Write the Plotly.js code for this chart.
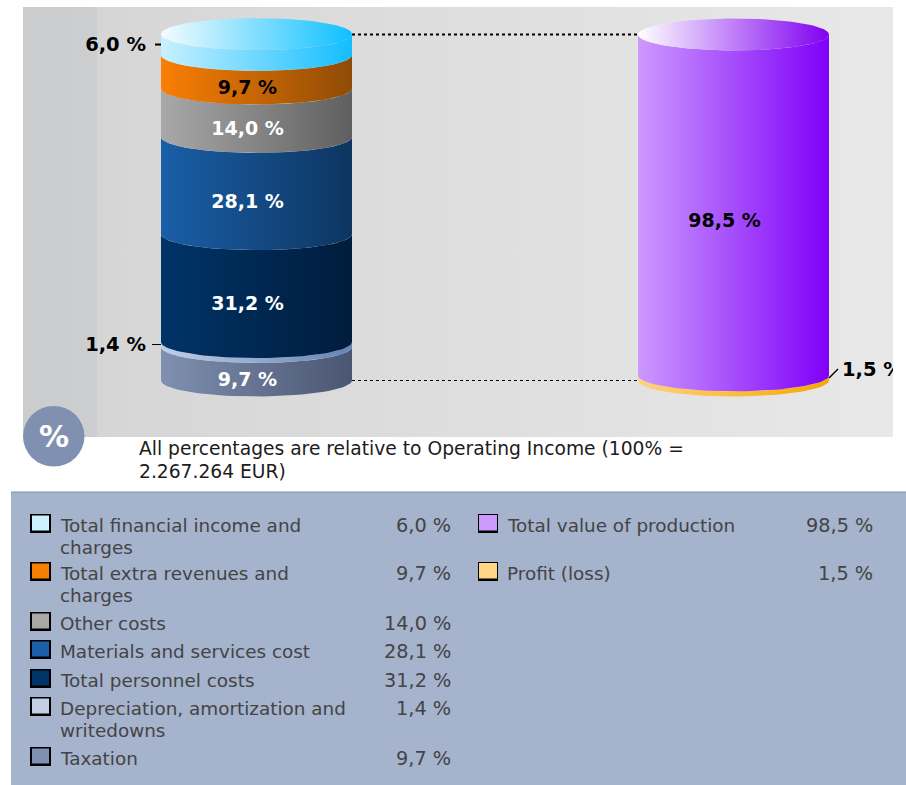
<!DOCTYPE html>
<html>
<head>
<meta charset="utf-8">
<script src="https://cdn.plot.ly/plotly-3.0.1.min.js"></script>
<style>html,body{margin:0;padding:0;background:#fff}#chart{width:906px;height:785px}</style>
</head>
<body>
<div id="chart"></div>
<script>
// Cost breakdown, listed from the top of the cylinder downward
const costNames = ["Total financial income and<br>charges", "Total extra revenues and<br>charges", "Other costs", "Materials and services cost", "Total personnel costs", "Depreciation, amortization and<br>writedowns", "Taxation"];
const costValues = [6.0, 9.7, 14.0, 28.1, 31.2, 1.4, 9.7];
const costLight = ["#c8f1ff", "#fb7f03", "#a9a9a9", "#1a5fa8", "#003468", "#c0cfe6", "#8090b0"];
const costDark = ["#14bdff", "#8f4b05", "#5f5f5f", "#0d3560", "#001c3c", "#6583b8", "#4a5672"];
const costLabelInk = ["#000000", "#000000", "#ffffff", "#ffffff", "#ffffff", "#000000", "#ffffff"];

// Revenue breakdown, listed from the top downward
const revenueNames = ["Total value of production", "Profit (loss)"];
const revenueValues = [98.5, 1.5];
const revenueLight = ["#cc99ff", "#ffd27f"];
const revenueDark = ["#8000f8", "#f5a800"];
const revenueLabelInk = ["#000000", "#000000"];

const costCapColors = ["#f4fcff", "#0fc0ff"];
const revenueCapColors = ["#ffffff", "#8000f0"];
const costSwatches = ["#ccf2ff", "#f77f00", "#a8a8a8", "#1a5fa8", "#003366", "#c3cfe2", "#8090b0"];
const revenueSwatches = ["#cc99ff", "#ffd588"];
const noteLines = ["All percentages are relative to Operating Income (100% =", "2.267.264 EUR)"];

const W = 906, H = 785;
const FONT = "DejaVu Sans, Verdana, sans-serif";

// Plot frame in page pixels and the axis scales it implies
const frame = {l: 23, r: 893, t: 7, b: 437};
const pxPerUnitY = 3.46, baseY = 380.5;
const leftCx = 256.5, rightCx = 733.5, pxPerUnitX = rightCx - leftCx;
const halfWidth = 95.5 / pxPerUnitX, capRy = 16 / pxPerUnitY;
const xRange = [(frame.l - leftCx) / pxPerUnitX, (frame.r - leftCx) / pxPerUnitX];
const yRange = [(baseY - frame.b) / pxPerUnitY, (baseY - frame.t) / pxPerUnitY];
const px = x => (x - frame.l) / (frame.r - frame.l) * (xRange[1] - xRange[0]) + xRange[0];
const pX = x => x / W;
const pY = y => 1 - y / H;
const fmt = v => v.toFixed(1).replace(".", ",") + " %";

const traces = [];

function band(x0, x1, y0, y1, gradient) {
  traces.push({
    type: "scatter", mode: "none", x: [x0, x1, x1, x0, x0], y: [y0, y0, y1, y1, y0],
    fill: "toself", fillgradient: {type: "horizontal", colorscale: [[0, gradient[0]], [1, gradient[1]]]},
    hoverinfo: "skip"
  });
}

// Front half of the rim at height v, walked left to right or right to left
function rim(cx, v, reverse) {
  const xs = [], ys = [];
  const n = 48;
  for (let i = 0; i <= n; i++) {
    const t = Math.PI * (reverse ? i / n : 1 - i / n);
    xs.push(cx + halfWidth * Math.cos(t));
    ys.push(v - capRy * Math.sin(t));
  }
  return {xs, ys};
}

function cylinderSegment(cx, lo, hi, light, dark) {
  const bottom = rim(cx, lo, false), top = rim(cx, hi, true);
  traces.push({
    type: "scatter", mode: "lines", line: {width: 0},
    x: bottom.xs.concat(top.xs, [bottom.xs[0]]),
    y: bottom.ys.concat(top.ys, [bottom.ys[0]]),
    fill: "toself", fillgradient: {type: "horizontal", colorscale: [[0, light], [1, dark]]},
    hoverinfo: "skip"
  });
}

function cylinderCap(cx, v, colors) {
  const xs = [], ys = [];
  for (let i = 0; i <= 96; i++) {
    const t = 2 * Math.PI * i / 96;
    xs.push(cx + halfWidth * Math.cos(t));
    ys.push(v + capRy * Math.sin(t));
  }
  traces.push({
    type: "scatter", mode: "lines", line: {width: 0}, x: xs, y: ys,
    fill: "toself", fillgradient: {type: "horizontal", colorscale: [[0, colors[0]], [1, colors[1]]]},
    hoverinfo: "skip"
  });
}

// Stacks a list given top-first and returns each segment's span
function drawStack(cx, values, light, dark, capColors) {
  const spans = [];
  let level = values.reduce((a, b) => a + b, 0);
  const total = level;
  values.forEach(v => { spans.push([level - v, level]); level -= v; });
  for (let i = values.length - 1; i >= 0; i--) cylinderSegment(cx, spans[i][0], spans[i][1], light[i], dark[i]);
  cylinderCap(cx, total, capColors);
  return spans;
}

function leader(xs, ys, width, dash) {
  traces.push({type: "scatter", mode: "lines", x: xs, y: ys, line: {color: "#000", width, dash: dash || "solid"}, hoverinfo: "skip"});
}

// Wall panels behind the cylinders
band(xRange[0], xRange[1], yRange[0], yRange[1], ["#d4d4d5", "#e8e8e8"]);
band(xRange[0], px(97), yRange[0], yRange[1], ["#cbccce", "#cdcecf"]);

const costSpans = drawStack(0, costValues, costLight, costDark, costCapColors);
const revenueSpans = drawStack(1, revenueValues, revenueLight, revenueDark, revenueCapColors);

// Dotted guides joining the two cylinders at the top and bottom
leader([halfWidth, 1 - halfWidth], [100, 100], 2, "dot");
leader([halfWidth, 1 - halfWidth], [0, 0], 1, "dot");

// Short ticks for the slices too thin to hold their own label
const finMid = (costSpans[0][0] + costSpans[0][1]) / 2;
const depMid = (costSpans[5][0] + costSpans[5][1]) / 2;
leader([-halfWidth - 6 / pxPerUnitX, -halfWidth], [finMid, finMid], 2);
leader([-halfWidth - 9 / pxPerUnitX, -halfWidth], [depMid, depMid], 1);
const profitMid = (revenueSpans[1][0] + revenueSpans[1][1]) / 2;
leader([1 + halfWidth, 1 + halfWidth + 9 / pxPerUnitX], [profitMid, profitMid + 9 / pxPerUnitY], 1.5);

// Value labels
const labelDrop = 17.5 / pxPerUnitY;
const labelX = [], labelY = [], labelText = [], labelInk = [];
costValues.forEach((v, i) => {
  if (i === 0 || i === 5) return;
  labelX.push(-9 / pxPerUnitX);
  labelY.push((costSpans[i][0] + costSpans[i][1]) / 2 - labelDrop);
  labelText.push(fmt(v));
  labelInk.push(costLabelInk[i]);
});
labelX.push(1 - 9 / pxPerUnitX);
labelY.push((revenueSpans[0][0] + revenueSpans[0][1]) / 2 - labelDrop);
labelText.push(fmt(revenueValues[0]));
labelInk.push(revenueLabelInk[0]);
traces.push({type: "scatter", mode: "text", x: labelX, y: labelY, text: labelText,
  textposition: "middle center", textfont: {family: FONT, size: 19, color: labelInk, weight: 700}, hoverinfo: "skip"});

// Labels set beside the cylinders
const sideDrop = 2 / pxPerUnitY;
traces.push({type: "scatter", mode: "text",
  x: [-halfWidth - 15 / pxPerUnitX, -halfWidth - 15 / pxPerUnitX, 1 + halfWidth + 13 / pxPerUnitX],
  y: [finMid - sideDrop, depMid - sideDrop, profitMid + 9 / pxPerUnitY - sideDrop],
  text: [fmt(costValues[0]), fmt(costValues[5]), fmt(revenueValues[1])],
  textposition: ["middle left", "middle left", "middle right"],
  textfont: {family: FONT, size: 19.5, color: "#000", weight: 700}, hoverinfo: "skip"});

// Legend panel, badge and notes are laid out in page space
const shapes = [
  {type: "rect", xref: "paper", yref: "paper", x0: pX(11), x1: pX(906), y0: pY(492), y1: pY(785), fillcolor: "#a5b3cd", line: {width: 0}, layer: "below"},
  {type: "line", xref: "paper", yref: "paper", x0: pX(11), x1: pX(906), y0: pY(492), y1: pY(492), line: {color: "#7f90ab", width: 1}, layer: "below"},
  {type: "circle", xref: "paper", yref: "paper", x0: pX(23), x1: pX(84.5), y0: pY(406), y1: pY(466.5), fillcolor: "#8090b0", line: {width: 0}}
];
const annotations = [];

function pageText(x, y, text, opts) {
  annotations.push(Object.assign({
    xref: "paper", yref: "paper", x: pX(x), y: pY(y), text, showarrow: false,
    xanchor: "left", yanchor: "middle", borderpad: 0, borderwidth: 0,
    font: {family: FONT, size: 18.4, color: "#444"}
  }, opts || {}));
}

pageText(53.5, 436, "%", {xanchor: "center", font: {family: FONT, size: 30, color: "#fff", weight: 700}});
noteLines.forEach((line, i) => pageText(139, 448 + i * 23, line, {font: {family: FONT, size: 18.7, color: "#1c1c1c"}}));

// A swatch is a black plate with the colour inset on top of it; the inset differs per column
function legendRow(swatch, textX, valueX, y, name, value, color) {
  const rect = (x0, x1, y0, y1, fill) => shapes.push({type: "rect", xref: "paper", yref: "paper",
    x0: pX(x0), x1: pX(x1), y0: pY(y0), y1: pY(y1), fillcolor: fill, line: {width: 0}});
  rect(swatch.x, swatch.x + swatch.w, y - 11, y + 8, "#000");
  rect(swatch.x + swatch.side, swatch.x + swatch.w - swatch.side, y - 11 + swatch.top, y + 8 - 2.5, color);
  name.split("<br>").forEach((line, i) => pageText(textX, y + i * 22.5, line));
  pageText(valueX, y, fmt(value), {xanchor: "right", font: {family: FONT, size: 19.3, color: "#444"}});
}

const costRowY = [525, 573, 623, 651, 680, 708, 758];
costNames.forEach((n, i) => legendRow({x: 30, w: 21, side: 2, top: 1.5}, 60, 451, costRowY[i], n, costValues[i], costSwatches[i]));
const revenueRowY = [525, 573];
revenueNames.forEach((n, i) => legendRow({x: 478, w: 20, side: 1, top: 1}, 507, 873, revenueRowY[i], n, revenueValues[i], revenueSwatches[i]));

const layout = {
  width: W, height: H, margin: {l: 0, r: 0, t: 0, b: 0},
  paper_bgcolor: "#fff", plot_bgcolor: "rgba(0,0,0,0)", showlegend: false, dragmode: false,
  xaxis: {domain: [pX(frame.l), pX(frame.r)], range: xRange, visible: false, fixedrange: true},
  yaxis: {domain: [pY(frame.b), pY(frame.t)], range: yRange, visible: false, fixedrange: true},
  shapes, annotations
};
Plotly.newPlot("chart", traces, layout, {staticPlot: true, displayModeBar: false});
</script>
</body>
</html>
